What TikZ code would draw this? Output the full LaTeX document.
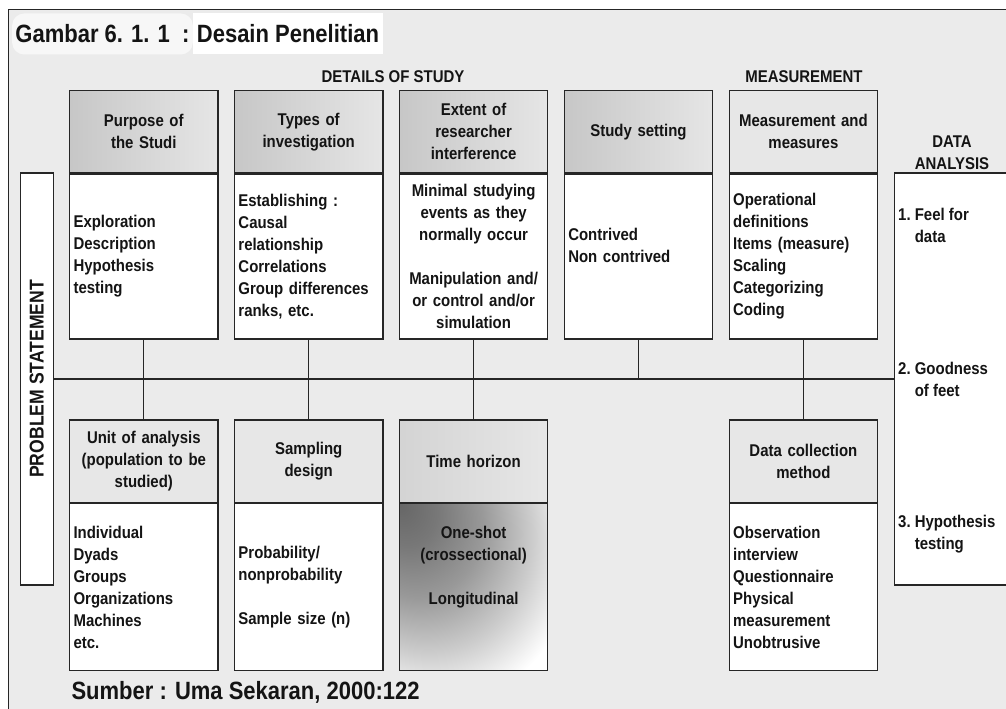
\documentclass[tikz,border=0pt]{standalone}
\usepackage{fontspec}
\setmainfont{Liberation Sans}[FakeStretch=0.88]
\usetikzlibrary{positioning}

\definecolor{bggray}{gray}{0.92}
\definecolor{titlegray}{gray}{0.97}
\definecolor{headdark}{gray}{0.78}
\definecolor{headlight}{gray}{0.90}
\definecolor{headflat}{gray}{0.905}
\definecolor{linegray}{gray}{0.15}
\pgfdeclareradialshading{timeshade}{\pgfpoint{-25bp}{25bp}}{color(0bp)=(black!60); color(10bp)=(black!53); color(22bp)=(black!40); color(35bp)=(black!20); color(47bp)=(white); color(90bp)=(white)}

\begin{document}
\begin{tikzpicture}[x=1pt,y=-1pt,
	every node/.style={font=\fontsize{17}{22}\selectfont\bfseries, text=black!92},
	head/.style={draw=linegray, line width=1.2pt, text width=140.5pt, inner xsep=4pt, minimum height=82pt, align=center},
	shadehead/.style={head, left color=headdark, right color=headlight},
	flathead/.style={head, fill=headflat},
	body/.style={draw=linegray, line width=1.2pt, fill=white, text width=140.5pt, inner xsep=4pt, minimum height=165pt, align=left},
	link/.style={draw=linegray, line width=1.2pt},
	big/.style={font=\fontsize{25}{28}\selectfont\bfseries}]
		\useasboundingbox (0,0) rectangle (1006,709);
		\fill[bggray] (8,10) rectangle (1014,715);
		\draw[linegray, line width=1pt] (8,715)--(8,10)--(1014,10);
		
		% title
		\node (gambar) at (102.5,34) [fill=titlegray, rounded corners=12pt, minimum width=178pt, minimum height=41pt, big] {Gambar 6. 1. 1~~:};
		\node (desain) at (288,34) [fill=white, minimum width=190pt, minimum height=41pt, big] {Desain Penelitian};
		
		\node (details) at (393,77) {DETAILS OF STUDY};
		\node (measurement) at (804,77) {MEASUREMENT};
		\node (analysis) at (952,152.5) [align=center] {DATA\\ANALYSIS};
		
		% side boxes
		\node (problem) at (36.8,378.9) [draw=linegray, line width=1.2pt, fill=white, minimum width=33pt, minimum height=412pt, inner sep=0pt,
			label={[rotate=90, font=\fontsize{20}{22}\selectfont\bfseries]center:PROBLEM STATEMENT}] {};
		\node (analysisbox) at (953,378.9) [draw=linegray, line width=1.2pt, fill=white, minimum width=117.4pt, minimum height=412pt, inner sep=0pt] {};
		\node (feel) at (898,225.5) [anchor=west, align=left, inner sep=0pt] {1.~Feel for\\\hspace*{16.6pt}data};
		\node (goodness) at (898,379) [anchor=west, align=left, inner sep=0pt] {2.~Goodness\\\hspace*{16.6pt}of feet};
		\node (hypothesis) at (898,534) [anchor=west, align=left, inner sep=0pt] {3.~Hypothesis\\\hspace*{16.6pt}testing};
		
		% top row
		\node (purpose) at (143.8,131.7) [shadehead] {Purpose of\\the Studi};
		\node (purposebody) [body, below=0pt of purpose] {Exploration\\Description\\Hypothesis\\testing};
		\node (types) at (308.7,131.7) [shadehead] {Types of\\investigation};
		\node (typesbody) [body, below=0pt of types] {Establishing :\\Causal\\relationship\\Correlations\\Group differences\\ranks, etc.};
		\node (extent) at (473.6,131.7) [shadehead] {Extent of\\researcher\\interference};
		\node (extentbody) [body, align=center, below=0pt of extent] {Minimal studying\\events as they\\normally occur\\[22pt]Manipulation and/\\or control and/or\\simulation};
		\node (setting) at (638.5,131.7) [shadehead] {Study setting};
		\node (settingbody) [body, below=0pt of setting] {Contrived\\Non contrived\\~};
		\node (measures) at (803.4,131.7) [flathead] {Measurement and\\measures};
		\node (measuresbody) [body, below=0pt of measures] {Operational\\definitions\\Items (measure)\\Scaling\\Categorizing\\Coding};
		
		% bottom row
		\node (unit) at (143.8,461.3) [flathead, minimum height=82.7pt] {Unit of analysis\\(population to be\\studied)};
		\node (unitbody) [body, minimum height=166.6pt, below=0pt of unit] {Individual\\Dyads\\Groups\\Organizations\\Machines\\etc.};
		\node (sampling) at (308.7,461.3) [flathead, minimum height=82.7pt] {Sampling\\design};
		\node (samplingbody) [body, minimum height=166.6pt, below=0pt of sampling] {Probability/\\nonprobability\\[22pt]Sample size (n)};
		\node (time) at (473.6,461.3) [head, minimum height=82.7pt, left color=black!17, right color=headflat] {Time horizon};
		\node (timebody) [body, minimum height=166.6pt, shade, shading=timeshade, align=center, below=0pt of time] {One-shot\\(crossectional)\\[22pt]Longitudinal\\~\\~};
		\node (collection) at (803.4,461.3) [flathead, minimum height=82.7pt] {Data collection\\method};
		\node (collectionbody) [body, minimum height=166.6pt, below=0pt of collection] {Observation\\interview\\Questionnaire\\Physical\\measurement\\Unobtrusive};
		
		\node (source) at (68,692) [anchor=west, big] {Sumber : Uma Sekaran, 2000:122};
		
		\draw[link] (problem.east)--(analysisbox.west);
		\draw[link] (purposebody.south)--(purposebody.south |- problem.east);
		\draw[link] (typesbody.south)--(typesbody.south |- problem.east);
		\draw[link] (extentbody.south)--(extentbody.south |- problem.east);
		\draw[link] (settingbody.south)--(settingbody.south |- problem.east);
		\draw[link] (measuresbody.south)--(measuresbody.south |- problem.east);
		\draw[link] (unit.north)--(unit.north |- problem.east);
		\draw[link] (sampling.north)--(sampling.north |- problem.east);
		\draw[link] (time.north)--(time.north |- problem.east);
		\draw[link] (collection.north)--(collection.north |- problem.east);
	\end{tikzpicture}
\end{document}
